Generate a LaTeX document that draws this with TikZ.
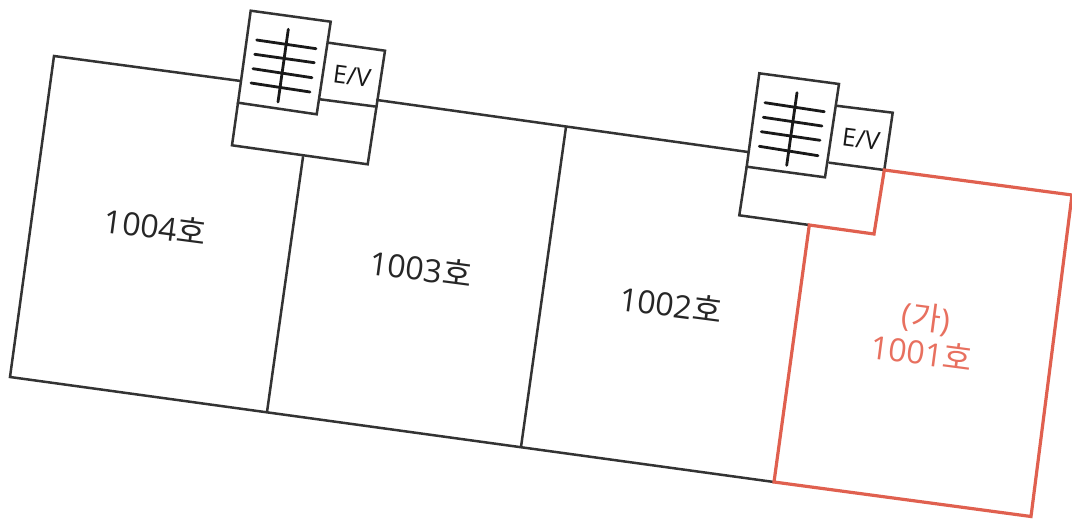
\documentclass[tikz,border=0pt]{standalone}
\usepackage{fontspec}
\setmainfont{Open Sans}
\newfontfamily\krfont{Noto Sans CJK KR}
\definecolor{wall}{HTML}{333333}
\definecolor{redwall}{HTML}{E0604F}
\definecolor{redtext}{HTML}{E8705F}
\tikzset{
  wallline/.style={draw=wall,line width=2.5pt,line cap=round,line join=miter},
  redline/.style={draw=redwall,line width=3.2pt,line join=miter},
  stairline/.style={draw=black!90,line width=2.8pt,line cap=round},
  roomlabel/.style={font=\fontsize{32}{36}\selectfont,text=black!85,rotate=-7.5,inner sep=0pt,align=center},
  evlabel/.style={font=\fontsize{25}{28}\selectfont,text=black!90,rotate=-7.5,inner sep=0pt},
}
\newcommand{\ho}{{\krfont 호}}
\begin{document}
\begin{tikzpicture}[x=1pt,y=-1pt]
\useasboundingbox (0,0) rectangle (1072,519);
\fill[white] (0,0) rectangle (1072,519);
% outer walls
\draw[wallline] (240.7,81) -- (54,56) -- (10,377) -- (774,482);
\draw[wallline] (377,100) -- (748,152);
% partitions
\draw[wallline] (303,157) -- (267,412);
\draw[wallline] (566,127) -- (521,447);
% core 1
\draw[wallline] (250.7,10.7) -- (330.7,21.7) -- (316.7,114.3) -- (238,102.7) -- cycle;
\draw[wallline] (328.3,42.7) -- (385,50.7) -- (367.7,164.3) -- (232,145.3) -- (238,102.7);
\draw[wallline] (320,99.3) -- (376.7,106.7);
\draw[stairline] (256.7,40) -- (316,48.7);
\draw[stairline] (254.7,54.3) -- (314.3,62.7);
\draw[stairline] (253,68.7) -- (312,77.7);
\draw[stairline] (251,83) -- (310,92);
\draw[stairline] (288.3,29.3) -- (278,102);
\node[evlabel] (ev1) at (352,76) {E/V};
% core 2
\draw[wallline] (759.3,73.3) -- (839,84) -- (825,177.3) -- (746.7,166.7) -- cycle;
\draw[wallline] (836,105.7) -- (892.7,112.7) -- (884.3,170);
\draw[wallline] (829.3,162.7) -- (884.3,170);
\draw[wallline] (746.7,166.7) -- (739.3,215.3) -- (809.3,225);
\draw[stairline] (765,102.7) -- (824.3,111.7);
\draw[stairline] (763.3,117.3) -- (822,126);
\draw[stairline] (761.3,131.7) -- (820,140.3);
\draw[stairline] (759.3,146.3) -- (818,155.7);
\draw[stairline] (797,92.7) -- (786.7,165.3);
\node[evlabel] (ev2) at (861,139) {E/V};
% unit (ga)
\draw[redline] (884.3,170) -- (1072,195) -- (1031,516.5) -- (774,482) -- (809.3,225) -- (874,234) -- cycle;
% labels
\node[roomlabel] (r1004) at (155.5,226) {1004\ho};
\node[roomlabel] (r1003) at (421,268) {1003\ho};
\node[roomlabel] (r1002) at (671,304) {1002\ho};
\node[roomlabel,text=redtext] (r1001) at (924,334) {({\krfont 가})\\1001\ho};
\end{tikzpicture}
\end{document}
